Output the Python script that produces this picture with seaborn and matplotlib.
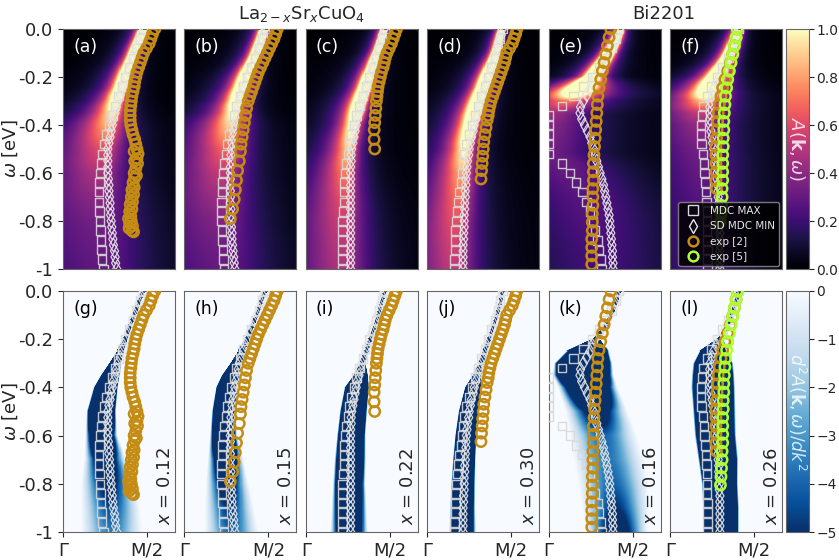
import matplotlib
matplotlib.use("Agg")
import matplotlib.pyplot as plt
from matplotlib.lines import Line2D
import numpy as np
import seaborn as sns

sns.set_style("ticks")
plt.rcParams["font.family"] = ["DejaVu Sans"]
plt.rcParams["mathtext.fontset"] = "dejavusans"

# ---- extracted dispersions (k in units of the panel width, M/2 at 0.75) ----
W_SQ = np.round(np.arange(26) * -0.04, 3)    # omega grid of MDC MAX points
W_DI = np.round(np.arange(41) * -0.025, 3)   # omega grid of SD MDC MIN points

MDC_MAX = [
    [0.72, 0.69, 0.655, 0.625, 0.59, 0.56, 0.53, 0.495, 0.465, 0.44, 0.41, 0.39, 0.37,
     0.355, 0.34, 0.33, 0.325, 0.32, 0.32, 0.325, 0.33, 0.335, 0.34, 0.345, 0.35, 0.36],
    [0.72, 0.695, 0.665, 0.635, 0.595, 0.56, 0.53, 0.495, 0.465, 0.445, 0.42, 0.40, 0.385,
     0.375, 0.36, 0.35, 0.34, 0.335, 0.33, 0.33, 0.33, 0.335, 0.34, 0.345, 0.35, 0.355],
    [0.70, 0.68, 0.655, 0.625, 0.60, 0.57, 0.54, 0.51, 0.48, 0.455, 0.43, 0.41, 0.39,
     0.375, 0.36, 0.35, 0.345, 0.34, 0.34, 0.335, 0.33, 0.33, 0.33, 0.33, 0.33, 0.33],
    [0.67, 0.65, 0.63, 0.605, 0.575, 0.545, 0.515, 0.485, 0.455, 0.425, 0.40, 0.375, 0.35,
     0.335, 0.32, 0.31, 0.30, 0.29, 0.28, 0.27, 0.26, 0.255, 0.25, 0.25, 0.245, 0.245],
    [0.63, 0.60, 0.56, 0.51, 0.45, 0.39, 0.31, 0.22, 0.12, 0.005, 0.005, 0.005, 0.005,
     0.005, 0.12, 0.19, 0.245, 0.30, 0.34, 0.37, 0.395, 0.415, 0.435, 0.45, 0.465, 0.47],
    [0.61, 0.585, 0.555, 0.52, 0.47, 0.42, 0.37, 0.33, 0.30, 0.285, 0.275, 0.275, 0.28,
     0.295, 0.305, 0.31, 0.315, 0.32, 0.325, 0.33, 0.33, 0.33, 0.335, 0.335, 0.335, 0.335],
]

SD_MIN = [
    [0.72, 0.70, 0.68, 0.66, 0.64, 0.62, 0.60, 0.58, 0.56, 0.54, 0.525, 0.51, 0.49, 0.475,
     0.465, 0.45, 0.44, 0.43, 0.42, 0.41, 0.40, 0.40, 0.40, 0.40, 0.40, 0.405, 0.41, 0.41,
     0.415, 0.42, 0.42, 0.425, 0.43, 0.435, 0.44, 0.445, 0.45, 0.46, 0.465, 0.47, 0.48],
    [0.72, 0.705, 0.685, 0.67, 0.65, 0.63, 0.61, 0.585, 0.565, 0.545, 0.525, 0.505, 0.49,
     0.48, 0.47, 0.46, 0.45, 0.44, 0.435, 0.425, 0.42, 0.415, 0.415, 0.41, 0.41, 0.41,
     0.41, 0.41, 0.41, 0.41, 0.415, 0.415, 0.42, 0.42, 0.425, 0.425, 0.43, 0.435, 0.44,
     0.445, 0.45],
    [0.70, 0.685, 0.67, 0.655, 0.64, 0.62, 0.605, 0.59, 0.57, 0.55, 0.535, 0.515, 0.50,
     0.485, 0.475, 0.46, 0.45, 0.44, 0.43, 0.42, 0.41, 0.405, 0.405, 0.40, 0.40, 0.40,
     0.40, 0.40, 0.40, 0.40, 0.40, 0.40, 0.40, 0.40, 0.40, 0.40, 0.40, 0.40, 0.40, 0.40,
     0.40],
    [0.67, 0.66, 0.645, 0.635, 0.62, 0.605, 0.585, 0.57, 0.55, 0.53, 0.515, 0.495, 0.48,
     0.465, 0.45, 0.435, 0.42, 0.41, 0.395, 0.385, 0.375, 0.37, 0.36, 0.355, 0.35, 0.345,
     0.345, 0.34, 0.34, 0.335, 0.335, 0.33, 0.33, 0.33, 0.325, 0.325, 0.32, 0.32, 0.32,
     0.32, 0.32],
    [0.63, 0.615, 0.595, 0.575, 0.55, 0.525, 0.49, 0.45, 0.41, 0.39, 0.37, 0.34, 0.31,
     0.285, 0.28, 0.295, 0.32, 0.345, 0.37, 0.385, 0.40, 0.415, 0.43, 0.445, 0.46, 0.475,
     0.49, 0.50, 0.51, 0.52, 0.53, 0.54, 0.545, 0.55, 0.555, 0.56, 0.565, 0.57, 0.57,
     0.575, 0.575],
    [0.61, 0.595, 0.58, 0.56, 0.54, 0.52, 0.495, 0.47, 0.44, 0.415, 0.39, 0.375, 0.36,
     0.355, 0.355, 0.355, 0.36, 0.365, 0.375, 0.38, 0.39, 0.40, 0.41, 0.415, 0.42, 0.42,
     0.425, 0.43, 0.43, 0.435, 0.435, 0.44, 0.44, 0.44, 0.445, 0.445, 0.445, 0.445, 0.445,
     0.445, 0.445],
]

# experimental dispersions, ref. [2]
EXP2_W = [
    [0.0, -0.02, -0.04, -0.06, -0.08, -0.10, -0.12, -0.14, -0.16, -0.18, -0.20, -0.22,
     -0.24, -0.26, -0.28, -0.30, -0.32, -0.34, -0.36, -0.38, -0.40, -0.42, -0.44, -0.46,
     -0.48, -0.50, -0.51, -0.52, -0.54, -0.55, -0.56, -0.58, -0.60, -0.61, -0.62, -0.64,
     -0.66, -0.67, -0.69, -0.70, -0.72, -0.73, -0.75, -0.76, -0.78, -0.79, -0.80, -0.81,
     -0.82, -0.83, -0.84, -0.845],
    [0.0, -0.02, -0.04, -0.06, -0.08, -0.10, -0.12, -0.14, -0.16, -0.18, -0.20, -0.22,
     -0.24, -0.26, -0.28, -0.30, -0.33, -0.36, -0.39, -0.42, -0.45, -0.48, -0.51, -0.55,
     -0.59, -0.63, -0.67, -0.71, -0.75, -0.79],
    [0.0, -0.02, -0.04, -0.06, -0.08, -0.10, -0.12, -0.14, -0.16, -0.18, -0.20, -0.22,
     -0.24, -0.26, -0.28, -0.30, -0.33, -0.36, -0.39, -0.42, -0.46, -0.50],
    [0.0, -0.02, -0.04, -0.06, -0.08, -0.10, -0.12, -0.14, -0.16, -0.18, -0.20, -0.22,
     -0.24, -0.26, -0.28, -0.30, -0.32, -0.34, -0.36, -0.38, -0.41, -0.44, -0.47, -0.50,
     -0.53, -0.56, -0.59, -0.625],
    [0.0, -0.035, -0.07, -0.105, -0.14, -0.175, -0.21, -0.245, -0.28, -0.315, -0.35,
     -0.385, -0.42, -0.455, -0.49, -0.525, -0.56, -0.595, -0.63, -0.665, -0.70, -0.735,
     -0.77, -0.805, -0.84, -0.875, -0.91, -0.945, -0.98],
    [0.0, -0.035, -0.07, -0.105, -0.14, -0.175, -0.21, -0.245, -0.28, -0.315, -0.35,
     -0.385, -0.42, -0.455, -0.49, -0.525, -0.56, -0.595, -0.63, -0.665],
]
EXP2_K = [
    [0.82, 0.80, 0.785, 0.77, 0.745, 0.72, 0.705, 0.69, 0.675, 0.66, 0.65, 0.64, 0.635,
     0.625, 0.615, 0.61, 0.605, 0.60, 0.60, 0.60, 0.605, 0.615, 0.625, 0.64, 0.65, 0.66,
     0.635, 0.67, 0.66, 0.64, 0.665, 0.65, 0.635, 0.655, 0.64, 0.625, 0.635, 0.615, 0.63,
     0.61, 0.62, 0.60, 0.615, 0.595, 0.605, 0.585, 0.61, 0.595, 0.62, 0.59, 0.615, 0.63],
    [0.83, 0.815, 0.80, 0.78, 0.76, 0.74, 0.72, 0.70, 0.68, 0.66, 0.645, 0.63, 0.615,
     0.60, 0.585, 0.57, 0.555, 0.545, 0.535, 0.525, 0.515, 0.505, 0.50, 0.49, 0.475,
     0.465, 0.455, 0.445, 0.43, 0.41],
    [0.81, 0.795, 0.78, 0.765, 0.745, 0.725, 0.71, 0.70, 0.69, 0.675, 0.665, 0.655, 0.645,
     0.64, 0.635, 0.63, 0.625, 0.62, 0.615, 0.61, 0.61, 0.615],
    [0.80, 0.79, 0.775, 0.76, 0.735, 0.71, 0.70, 0.69, 0.675, 0.66, 0.645, 0.63, 0.615,
     0.60, 0.585, 0.57, 0.56, 0.55, 0.545, 0.535, 0.525, 0.515, 0.505, 0.50, 0.495, 0.49,
     0.485, 0.48],
    [0.555, 0.54, 0.525, 0.51, 0.495, 0.48, 0.465, 0.45, 0.44, 0.435, 0.43, 0.425, 0.42,
     0.415, 0.41, 0.405, 0.40, 0.40, 0.40, 0.395, 0.395, 0.395, 0.39, 0.39, 0.39, 0.385,
     0.385, 0.385, 0.385],
    [0.60, 0.59, 0.575, 0.56, 0.54, 0.515, 0.49, 0.47, 0.455, 0.44, 0.43, 0.425, 0.42,
     0.415, 0.41, 0.41, 0.41, 0.41, 0.41, 0.415],
]
# experimental dispersion, ref. [5] (only Bi2201, x = 0.26)
EXP5_W = [0.0, -0.035, -0.07, -0.105, -0.14, -0.175, -0.21, -0.245, -0.28, -0.315, -0.35,
          -0.385, -0.42, -0.455, -0.49, -0.525, -0.56, -0.595, -0.63, -0.665, -0.70, -0.735,
          -0.77, -0.805]
EXP5_K = [0.60, 0.59, 0.575, 0.56, 0.545, 0.53, 0.515, 0.505, 0.495, 0.49, 0.485, 0.48,
          0.48, 0.475, 0.475, 0.47, 0.47, 0.47, 0.47, 0.465, 0.465, 0.46, 0.455, 0.45]

# ---- spectral-map shape, on a coarse omega grid ----
W_KNOT = [0.0, -0.05, -0.1, -0.15, -0.2, -0.25, -0.3, -0.35, -0.4, -0.5, -0.6, -0.7, -0.8, -0.9, -1.0]
TOP_WIDTH = [
    [0.02, 0.022, 0.025, 0.03, 0.04, 0.05, 0.07, 0.10, 0.14, 0.20, 0.26, 0.33, 0.40, 0.44, 0.46],
    [0.02, 0.022, 0.025, 0.03, 0.04, 0.05, 0.065, 0.09, 0.13, 0.18, 0.23, 0.29, 0.35, 0.40, 0.43],
    [0.015, 0.018, 0.02, 0.025, 0.03, 0.035, 0.045, 0.055, 0.065, 0.09, 0.13, 0.17, 0.21, 0.23, 0.25],
    [0.015, 0.018, 0.02, 0.025, 0.03, 0.035, 0.045, 0.055, 0.065, 0.085, 0.12, 0.15, 0.18, 0.20, 0.22],
    [0.02, 0.025, 0.03, 0.04, 0.05, 0.12, 0.22, 0.30, 0.33, 0.36, 0.40, 0.44, 0.48, 0.50, 0.50],
    [0.02, 0.025, 0.03, 0.04, 0.06, 0.10, 0.17, 0.24, 0.28, 0.32, 0.35, 0.37, 0.39, 0.40, 0.40],
]
TOP_PEAK = [
    [3.0, 3.0, 2.8, 2.5, 2.0, 1.6, 1.25, 1.0, 0.85, 0.62, 0.48, 0.40, 0.34, 0.31, 0.29],
    [3.0, 3.0, 2.8, 2.6, 2.2, 1.8, 1.4, 1.1, 0.92, 0.68, 0.53, 0.44, 0.37, 0.33, 0.30],
    [3.0, 3.0, 3.0, 3.0, 2.8, 2.4, 2.0, 1.6, 1.2, 0.9, 0.72, 0.62, 0.55, 0.51, 0.48],
    [3.0, 3.0, 3.0, 3.0, 3.0, 2.6, 2.2, 1.8, 1.45, 1.05, 0.82, 0.70, 0.62, 0.57, 0.52],
    [3.0, 3.0, 2.8, 2.5, 2.3, 1.8, 0.75, 0.45, 0.38, 0.33, 0.30, 0.27, 0.25, 0.23, 0.22],
    [3.0, 3.0, 2.8, 2.5, 2.2, 1.6, 0.90, 0.55, 0.42, 0.34, 0.30, 0.27, 0.25, 0.24, 0.23],
]
TOP_LEFT_SCALE = [0.6, 0.6, 0.6, 0.6, 0.75, 0.7]    # broader tail towards Gamma
TOP_RIGHT_SCALE = [1.2, 1.2, 1.2, 1.2, 0.9, 1.1]
BOT_CENTER = [
    [0.71, 0.67, 0.63, 0.59, 0.55, 0.51, 0.46, 0.42, 0.38, 0.34, 0.34, 0.37, 0.40, 0.42, 0.43],
    [0.72, 0.68, 0.645, 0.60, 0.56, 0.51, 0.46, 0.42, 0.38, 0.355, 0.35, 0.365, 0.38, 0.40, 0.42],
    [0.70, 0.67, 0.64, 0.61, 0.57, 0.535, 0.50, 0.485, 0.45, 0.42, 0.40, 0.39, 0.38, 0.38, 0.38],
    [0.67, 0.65, 0.62, 0.585, 0.55, 0.515, 0.48, 0.445, 0.41, 0.37, 0.345, 0.33, 0.32, 0.315, 0.315],
    [0.62, 0.59, 0.55, 0.50, 0.42, 0.34, 0.30, 0.30, 0.34, 0.42, 0.48, 0.53, 0.57, 0.59, 0.60],
    [0.61, 0.58, 0.55, 0.51, 0.45, 0.38, 0.38, 0.38, 0.38, 0.39, 0.40, 0.425, 0.44, 0.45, 0.45],
]
BOT_WIDTH = [
    [0.035, 0.035, 0.035, 0.035, 0.04, 0.055, 0.09, 0.15, 0.19, 0.23, 0.25, 0.32, 0.42, 0.46, 0.48],
    [0.035, 0.035, 0.035, 0.035, 0.04, 0.055, 0.085, 0.15, 0.17, 0.19, 0.21, 0.27, 0.33, 0.38, 0.42],
    [0.03, 0.03, 0.03, 0.03, 0.035, 0.035, 0.045, 0.11, 0.19, 0.21, 0.22, 0.24, 0.25, 0.27, 0.29],
    [0.03, 0.03, 0.03, 0.03, 0.035, 0.035, 0.045, 0.07, 0.13, 0.16, 0.17, 0.18, 0.19, 0.20, 0.21],
    [0.035, 0.035, 0.035, 0.035, 0.05, 0.33, 0.45, 0.47, 0.46, 0.48, 0.52, 0.55, 0.55, 0.52, 0.48],
    [0.035, 0.035, 0.035, 0.035, 0.05, 0.21, 0.31, 0.33, 0.34, 0.33, 0.32, 0.31, 0.28, 0.28, 0.28],
]
BOT_DEPTH = [
    [60, 60, 60, 60, 60, 60, 60, 60, 60, 50, 20, 9, 6, 4.5, 3.5],
    [60, 60, 60, 60, 60, 60, 60, 60, 60, 50, 30, 12, 7, 5, 4],
    [60, 60, 60, 60, 60, 60, 60, 60, 60, 60, 50, 40, 30, 20, 14],
    [60, 60, 60, 60, 60, 60, 60, 60, 60, 60, 60, 50, 40, 30, 22],
    [60, 60, 60, 60, 60, 60, 60, 40, 18, 7, 4, 3.6, 4, 5, 7],
    [60, 60, 60, 60, 60, 60, 60, 60, 60, 60, 60, 60, 60, 60, 60],
]

TOP_LABELS = ["(a)", "(b)", "(c)", "(d)", "(e)", "(f)"]
BOT_LABELS = ["(g)", "(h)", "(i)", "(j)", "(k)", "(l)"]
DOPING = ["0.12", "0.15", "0.22", "0.30", "0.16", "0.26"]
YTICKS = [0.0, -0.2, -0.4, -0.6, -0.8, -1.0]
YTICK_LABELS = ["0.0", "-0.2", "-0.4", "-0.6", "-0.8", "-1"]

SQ_COL = "#d8d8d8"
DI_COL = "#e6e6e6"
EXP2_COL = "#c48c12"
EXP5_COL = "#adff2f"

kk = np.linspace(0, 1, 224)
ww = np.linspace(0, -1, 240)


def knots(arr):
    return np.interp(-ww, -np.array(W_KNOT), arr)[:, None]


def spectral(i):
    c = np.interp(-ww, -W_SQ, MDC_MAX[i])[:, None]
    g, p = knots(TOP_WIDTH[i]), knots(TOP_PEAK[i])
    x = kk[None, :] - c
    s = np.where(x < 0, TOP_LEFT_SCALE[i], TOP_RIGHT_SCALE[i])
    return p * g**2 / ((s * x)**2 + g**2)


def curvature(i):
    c, g, d = knots(BOT_CENTER[i]), knots(BOT_WIDTH[i]), knots(BOT_DEPTH[i])
    u2 = ((kk[None, :] - c) / g)**2
    return -d * (1 - 3 * u2) / (1 + u2)**3


def draw_markers(ax, i):
    sns.scatterplot(x=MDC_MAX[i], y=W_SQ, marker="s", s=38, facecolor="none",
                    edgecolor=SQ_COL, linewidth=1.0, alpha=0.9, ax=ax, legend=False, zorder=3)
    sns.scatterplot(x=SD_MIN[i], y=W_DI, marker="d", s=48, facecolor="none",
                    edgecolor=DI_COL, linewidth=0.9, alpha=0.9, ax=ax, legend=False, zorder=3)
    sns.scatterplot(x=EXP2_K[i], y=EXP2_W[i], marker="o", s=55, facecolor="none",
                    edgecolor=EXP2_COL, linewidth=1.8, ax=ax, legend=False, zorder=4)
    if i == 5:
        sns.scatterplot(x=EXP5_K, y=EXP5_W, marker="o", s=55, facecolor="none",
                        edgecolor=EXP5_COL, linewidth=1.8, ax=ax, legend=False, zorder=5)


fig = plt.figure(figsize=(8.39, 5.6), dpi=100)
left0, step, width = 0.0751, 0.1447, 0.1335
rows = [(0.5196, 0.4286), (0.05, 0.4304)]

for r, (y0, h) in enumerate(rows):
    for i in range(6):
        ax = fig.add_axes([left0 + i * step, y0, width, h])
        if r == 0:
            im = ax.imshow(spectral(i), cmap="magma", vmin=0, vmax=1, extent=(0, 1, -1, 0),
                           aspect="auto", interpolation="nearest", origin="upper")
        else:
            im = ax.imshow(curvature(i), cmap="Blues_r", vmin=-5, vmax=0, extent=(0, 1, -1, 0),
                           aspect="auto", interpolation="nearest", origin="upper")
        draw_markers(ax, i)
        ax.set_xlim(0, 1)
        ax.set_ylim(-1, 0)
        for sp in ax.spines.values():
            sp.set_color("0.4")
        lab = TOP_LABELS[i] if r == 0 else BOT_LABELS[i]
        ax.text(0.09, 0.925, lab, transform=ax.transAxes, fontsize=12.5,
                color="w" if r == 0 else "k", va="center")
        if i == 0:
            ax.set_yticks(YTICKS)
            ax.set_yticklabels(YTICK_LABELS, fontsize=13)
            ax.set_ylabel(r"$\omega$ [eV]", fontsize=13)
            ax.yaxis.set_label_coords(-0.38, 0.5)
        else:
            ax.set_yticks([])
        if r == 1:
            ax.set_xticks([0, 0.75])
            ax.set_xticklabels(["Γ", "M/2"], fontsize=13)
            ax.text(0.91, 0.03, r"$x$ = " + DOPING[i], transform=ax.transAxes, rotation=90,
                    fontsize=13, ha="center", va="bottom")
        else:
            ax.set_xticks([])
        ax.set_xlabel("")
        if r == 0 and i == 5:
            handles = [
                Line2D([], [], ls="", marker="s", mfc="none", mec=SQ_COL, ms=6.5, label="MDC MAX"),
                Line2D([], [], ls="", marker="d", mfc="none", mec=DI_COL, ms=7.5, label="SD MDC MIN"),
                Line2D([], [], ls="", marker="o", mfc="none", mec=EXP2_COL, mew=1.8, ms=7, label="exp [2]"),
                Line2D([], [], ls="", marker="o", mfc="none", mec=EXP5_COL, mew=1.8, ms=7, label="exp [5]"),
            ]
            ax.legend(handles=handles, loc="lower right", fontsize=7.5, facecolor="k",
                      edgecolor="0.55", framealpha=0.85, labelcolor="0.9",
                      borderaxespad=0.3, handletextpad=0.6)
    cax = fig.add_axes([0.9368, y0, 0.0274, h])
    cb = fig.colorbar(im, cax=cax)
    cb.outline.set_edgecolor("0.4")
    cax.tick_params(labelsize=10, pad=2)
    if r == 0:
        cb.set_ticks([0.0, 0.2, 0.4, 0.6, 0.8, 1.0])
        cb.set_ticklabels(["0.0", "0.2", "0.4", "0.6", "0.8", "1.0"])
        cax.text(0.5, 0.5, r"$A(\mathbf{k},\omega)$", transform=cax.transAxes, rotation=270,
                 ha="center", va="center", color="w", alpha=0.8, fontsize=13)
    else:
        cb.set_ticks([0, -1, -2, -3, -4, -5])
        cax.text(0.5, 0.5, r"$d^2A(\mathbf{k},\omega)/dk^2$", transform=cax.transAxes,
                 rotation=270, ha="center", va="center", color="w", alpha=0.8, fontsize=12.5)

fig.text(0.359, 0.975, r"La$_{2-x}$Sr$_x$CuO$_4$", fontsize=13, ha="center", va="center")
fig.text(0.791, 0.975, "Bi2201", fontsize=13, ha="center", va="center")

fig.savefig("out.png", dpi=100)
